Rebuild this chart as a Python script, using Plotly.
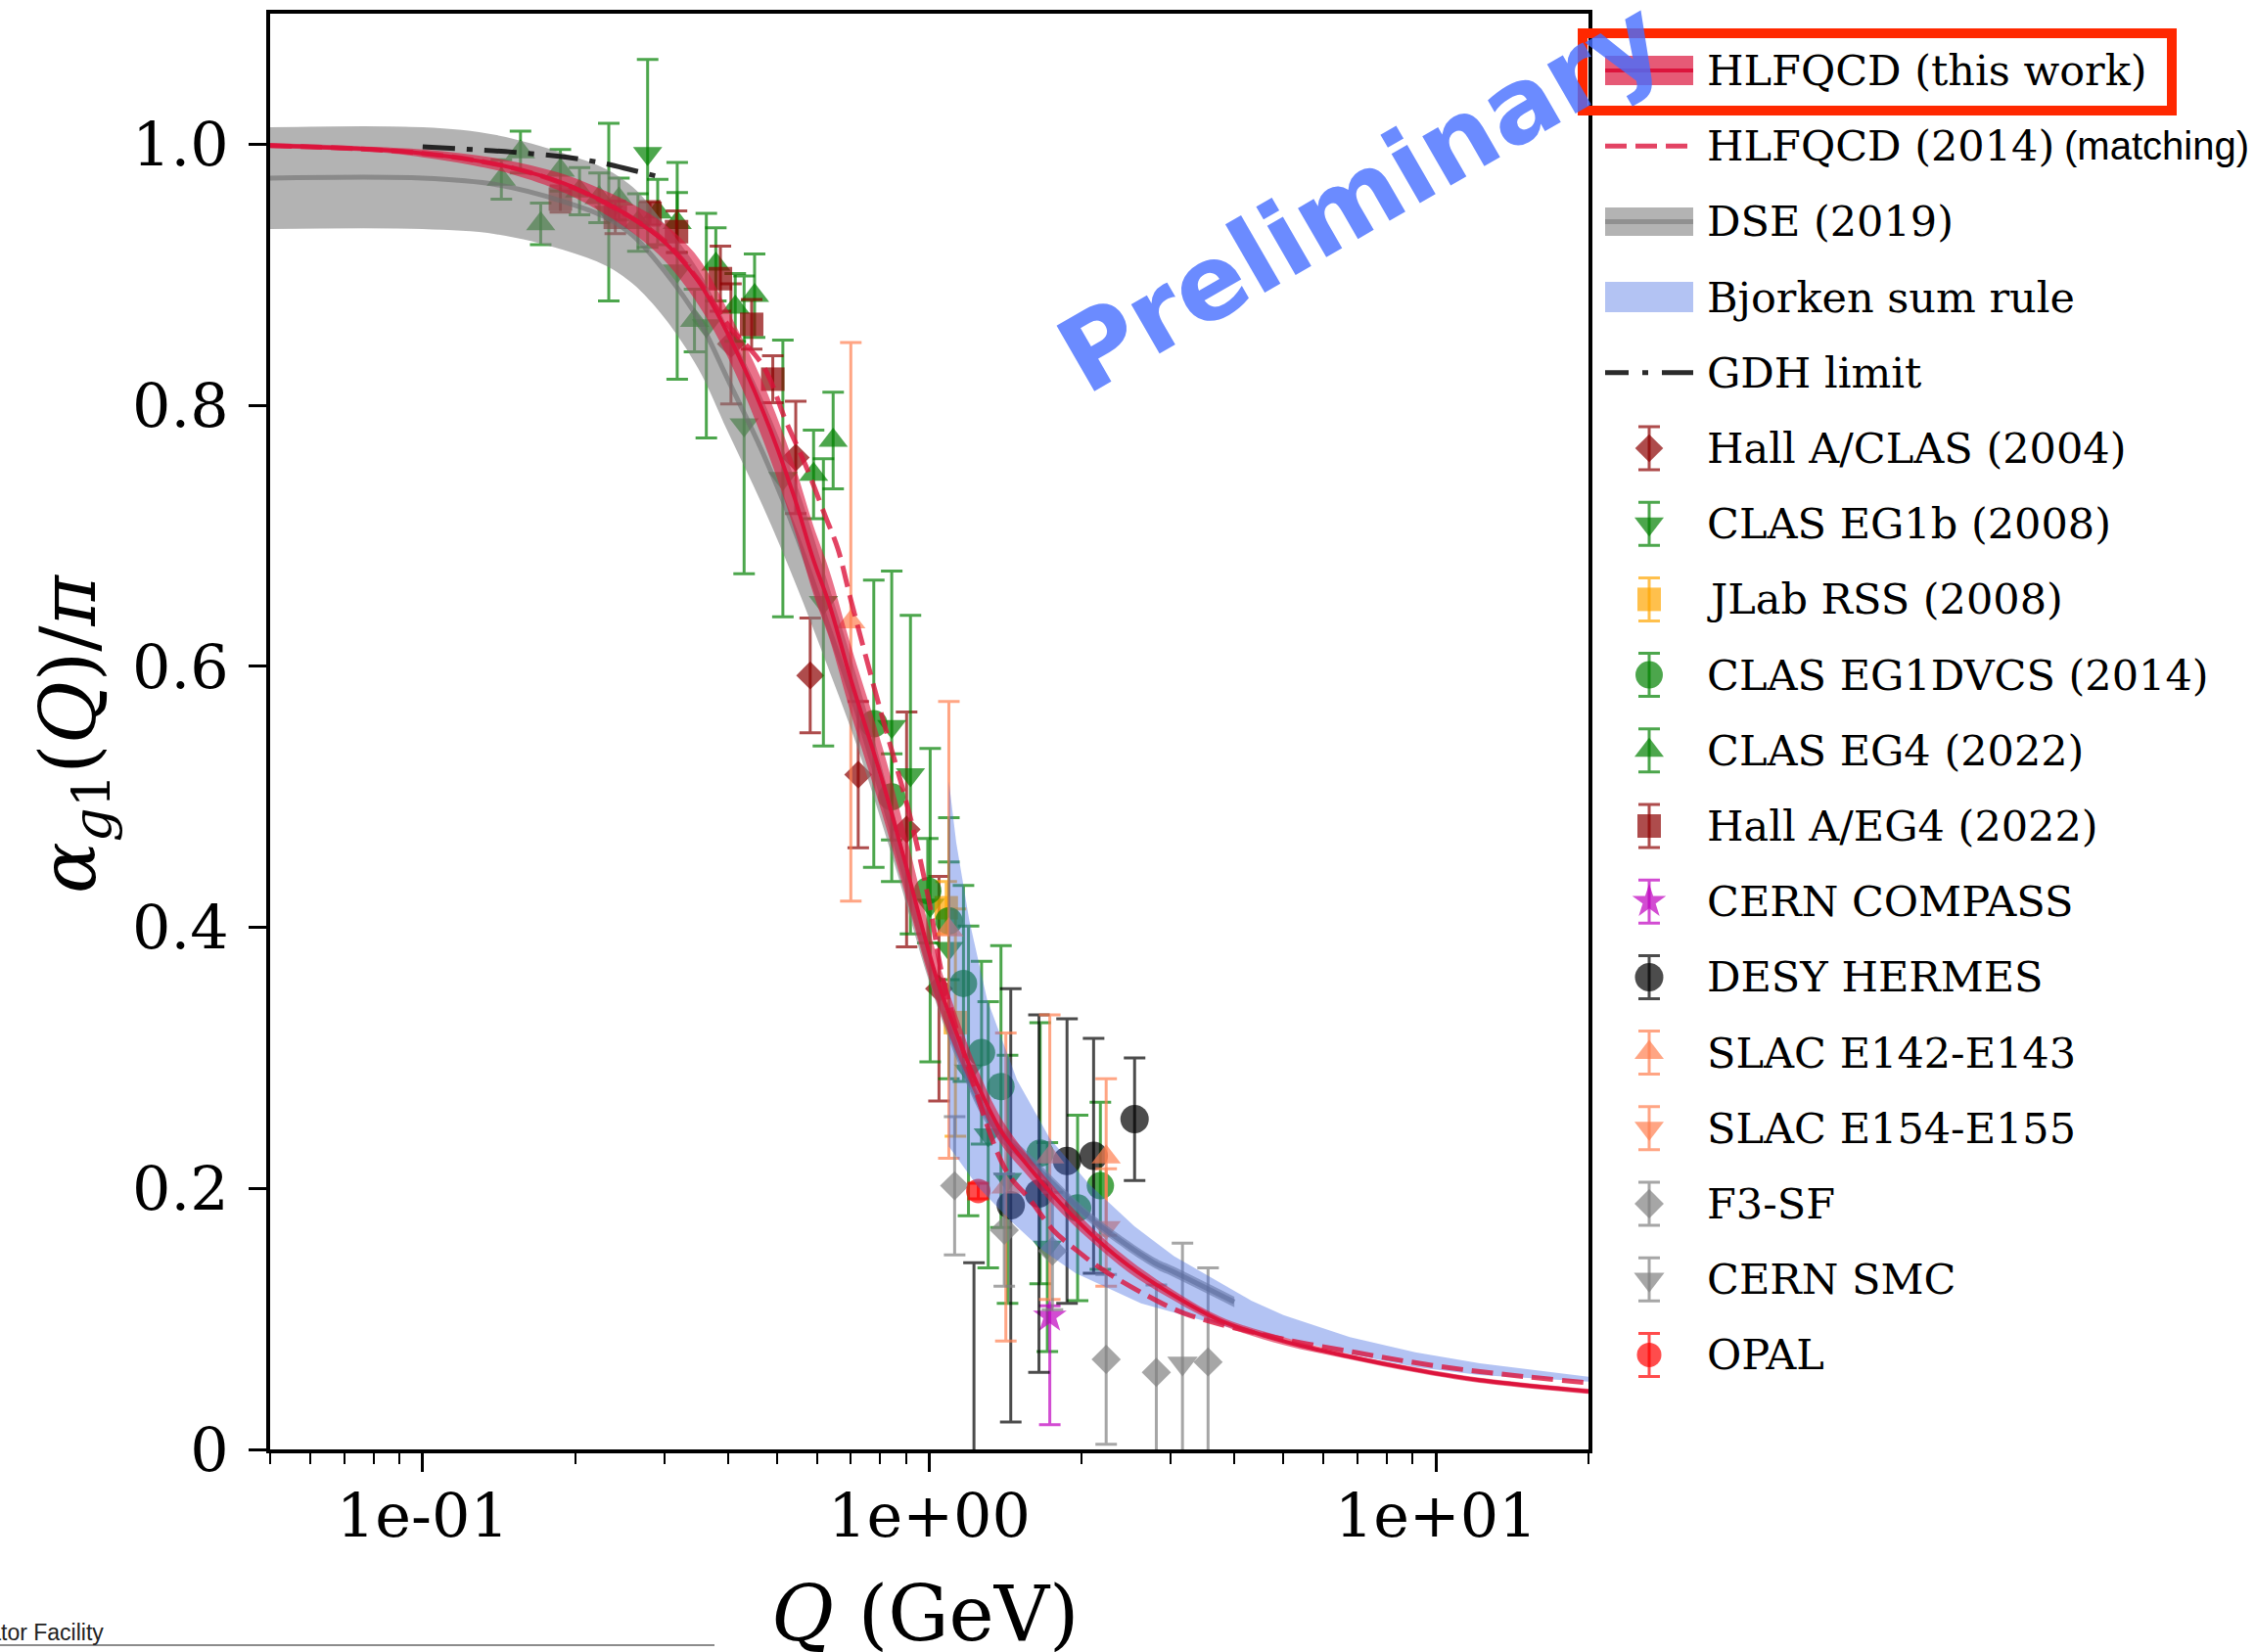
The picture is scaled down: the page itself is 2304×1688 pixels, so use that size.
import math
import plotly.graph_objects as go

# ---------------- theory curves ----------------
# HLFQCD (this work): central curve and its uncertainty band
hlf_q = [0.05, 0.08, 0.1, 0.125, 0.15, 0.19, 0.23, 0.26, 0.30, 0.35, 0.40, 0.47, 0.54, 0.59, 0.636, 0.70,
         0.807, 0.895, 1.03, 1.126, 1.249, 1.385, 1.537, 1.781, 2.066, 2.468, 2.948, 3.74, 5.0, 6.76, 9.1, 12.2, 20.0]
hlf_mid = [0.999, 0.996, 0.993, 0.988, 0.982, 0.970, 0.955, 0.943, 0.925, 0.895, 0.855, 0.795, 0.731, 0.682, 0.6465, 0.590,
           0.513, 0.4505, 0.363, 0.321, 0.2784, 0.244, 0.221, 0.192, 0.1665, 0.141, 0.121, 0.099, 0.083, 0.071, 0.061, 0.053, 0.0445]
hlf_hi = [1.001, 0.998, 0.996, 0.992, 0.987, 0.977, 0.964, 0.954, 0.939, 0.913, 0.873, 0.817, 0.756, 0.708, 0.6725, 0.616,
          0.539, 0.4745, 0.381, 0.336, 0.290, 0.254, 0.229, 0.199, 0.172, 0.146, 0.125, 0.102, 0.086, 0.073, 0.063, 0.055, 0.0465]
hlf_lo = [0.997, 0.994, 0.990, 0.984, 0.977, 0.963, 0.946, 0.932, 0.911, 0.877, 0.837, 0.773, 0.706, 0.656, 0.6205, 0.564,
          0.487, 0.4265, 0.345, 0.306, 0.267, 0.234, 0.213, 0.185, 0.161, 0.136, 0.117, 0.096, 0.080, 0.069, 0.059, 0.051, 0.0425]

# HLFQCD (2014), matched to pQCD
hlf14_q = [0.05, 0.1, 0.15, 0.2, 0.26, 0.3, 0.35, 0.4, 0.47, 0.521, 0.57, 0.622, 0.66, 0.701, 0.801, 0.915, 1.0,
           1.061, 1.2, 1.416, 1.583, 1.756, 1.976, 2.193, 2.657, 3.2, 4.67, 7.0, 10.0, 14.0, 20.0]
hlf14 = [0.999, 0.993, 0.982, 0.966, 0.943, 0.926, 0.896, 0.862, 0.830, 0.788, 0.754, 0.716, 0.690, 0.650, 0.566, 0.486, 0.419,
         0.363, 0.290, 0.214, 0.191, 0.168, 0.151, 0.138, 0.119, 0.104, 0.087, 0.074, 0.064, 0.057, 0.051]

# DSE (2019)
dse_q = [0.05, 0.1, 0.14, 0.19, 0.23, 0.26, 0.30, 0.35, 0.40, 0.47, 0.545, 0.62, 0.72, 0.85, 1.0, 1.15, 1.32, 1.61,
         2.07, 2.78, 3.04, 4.0]
dse_mid = [0.974, 0.974, 0.969, 0.956, 0.944, 0.930, 0.903, 0.866, 0.820, 0.763, 0.702, 0.640, 0.565, 0.470, 0.370, 0.300,
           0.251, 0.218, 0.178, 0.143, 0.136, 0.113]
dse_hi = [1.013, 1.013, 1.007, 0.993, 0.981, 0.967, 0.939, 0.904, 0.860, 0.804, 0.741, 0.673, 0.591, 0.489, 0.382, 0.308,
          0.257, 0.223, 0.182, 0.147, 0.140, 0.117]
dse_lo = [0.935, 0.935, 0.931, 0.919, 0.907, 0.893, 0.867, 0.828, 0.780, 0.722, 0.663, 0.607, 0.539, 0.451, 0.358, 0.292,
          0.245, 0.213, 0.174, 0.139, 0.132, 0.109]

# Bjorken sum rule band (upper and lower edges)
bj_up_q = [1.093, 1.13, 1.2, 1.3, 1.49, 1.73, 2.07, 2.54, 3.04, 4.32, 5.0, 6.76, 9.1, 12.2, 20.0]
bj_up = [0.512, 0.465, 0.405, 0.345, 0.283, 0.238, 0.203, 0.171, 0.148, 0.114, 0.103, 0.086, 0.0745, 0.066, 0.0557]
bj_lo_q = [1.093, 1.249, 1.448, 1.68, 1.946, 2.258, 2.617, 3.52, 4.32, 5.0, 6.76, 9.1, 12.2, 20.0]
bj_lo = [0.232, 0.201, 0.175, 0.152, 0.135, 0.1235, 0.112, 0.098, 0.089, 0.0857, 0.0732, 0.0632, 0.057, 0.052]

# GDH limit
gdh_q = [0.1, 0.15, 0.193, 0.23, 0.26, 0.301]
gdh = [0.998, 0.994, 0.990, 0.985, 0.980, 0.974]

# ---------------- experimental data ----------------
halla_clas04_q = [0.406, 0.545, 0.582, 0.724, 0.902, 1.045]
halla_clas04_v = [0.847, 0.760, 0.593, 0.517, 0.475, 0.353]
halla_clas04_e = [0.046, 0.043, 0.044, 0.056, 0.090, 0.086]

clas_eg1b_q = [0.233, 0.278, 0.318, 0.363, 0.431, 0.514, 0.618, 0.843, 0.918, 1.004, 1.093, 1.195, 1.307, 1.427, 1.71]
clas_eg1b_v = [0.948, 0.993, 0.903, 0.861, 0.785, 0.744, 0.649, 0.554, 0.517, 0.417, 0.384, 0.290, 0.241, 0.207, 0.155]
clas_eg1b_e = [0.068, 0.072, 0.083, 0.086, 0.114, 0.106, 0.110, 0.119, 0.122, 0.120, 0.100, 0.111, 0.102, 0.095, 0.080]

jlab_rss_q = [1.08, 1.126]
jlab_rss_v = [0.415, 0.327]
jlab_rss_e = [0.020, 0.087]

clas_eg1dvcs_q = [0.777, 0.843, 0.993, 1.093, 1.168, 1.268, 1.385, 1.655, 1.962, 2.176]
clas_eg1dvcs_v = [0.556, 0.500, 0.428, 0.405, 0.357, 0.304, 0.278, 0.227, 0.185, 0.202]
clas_eg1dvcs_e = [0.110, 0.033, 0.040, 0.045, 0.075, 0.070, 0.108, 0.100, 0.071, 0.064]

clas_eg4_q = [0.143, 0.156, 0.171, 0.187, 0.204, 0.223, 0.244, 0.266, 0.291, 0.318, 0.344, 0.379, 0.414, 0.452, 0.591, 0.646]
clas_eg4_v = [0.973, 0.994, 0.939, 0.980, 0.964, 0.959, 0.958, 0.940, 0.948, 0.940, 0.865, 0.908, 0.875, 0.884, 0.747, 0.773]
clas_eg4_e = [0.015, 0.016, 0.016, 0.016, 0.018, 0.019, 0.016, 0.022, 0.025, 0.023, 0.024, 0.028, 0.026, 0.032, 0.034, 0.037]

halla_eg4_q = [0.187, 0.240, 0.281, 0.317, 0.387, 0.446, 0.491]
halla_eg4_v = [0.958, 0.944, 0.947, 0.933, 0.897, 0.862, 0.820]
halla_eg4_e = [0.010, 0.0125, 0.009, 0.016, 0.025, 0.019, 0.018]

compass_q = [1.729]
compass_v = [0.102]
compass_e_up = [0.008]
compass_e_down = [0.083]

hermes_q = [1.225, 1.448, 1.646, 1.87, 2.11, 2.542]
hermes_v = [-0.03, 0.187, 0.196, 0.221, 0.225, 0.253]
hermes_e = [0.173, 0.166, 0.137, 0.109, 0.090, 0.047]

slac_e142_q = [0.70, 1.093, 1.416, 1.729, 2.234]
slac_e142_v = [0.634, 0.398, 0.201, 0.224, 0.224]
slac_e142_e = [0.214, 0.175, 0.118, 0.109, 0.060]

slac_e154_q = [2.234]
slac_e154_v = [0.170]
slac_e154_e = [0.045]

f3sf_q = [1.122, 1.406, 1.75, 2.234, 2.806, 3.55]
f3sf_v = [0.202, 0.168, 0.152, 0.069, 0.059, 0.067]
f3sf_e = [0.053, 0.043, 0.045, 0.065, 0.067, 0.072]

smc_q = [3.16]
smc_v = [0.066]
smc_e = [0.092]

opal_q = [1.249]
opal_v = [0.198]
opal_e = [0.006]

# ---------------- styles ----------------
W, H = 2304, 1688
X0, X1, Y0, Y1 = 276, 1623, 14, 1481          # plot area in pixels
CRIMSON = "rgb(220,20,60)"

datasets = [
    dict(label="Hall A/CLAS (2004)", q=halla_clas04_q, v=halla_clas04_v, e=halla_clas04_e,
         symbol="diamond", size=22, color="rgba(139,0,0,0.7)"),
    dict(label="CLAS EG1b (2008)", q=clas_eg1b_q, v=clas_eg1b_v, e=clas_eg1b_e,
         symbol="triangle-down", size=26, color="rgba(0,128,0,0.7)"),
    dict(label="JLab RSS (2008)", q=jlab_rss_q, v=jlab_rss_v, e=jlab_rss_e,
         symbol="square", size=24, color="rgba(255,165,0,0.7)"),
    dict(label="CLAS EG1DVCS (2014)", q=clas_eg1dvcs_q, v=clas_eg1dvcs_v, e=clas_eg1dvcs_e,
         symbol="circle", size=28, color="rgba(0,128,0,0.7)"),
    dict(label="CLAS EG4 (2022)", q=clas_eg4_q, v=clas_eg4_v, e=clas_eg4_e,
         symbol="triangle-up", size=26, color="rgba(0,128,0,0.7)"),
    dict(label="Hall A/EG4 (2022)", q=halla_eg4_q, v=halla_eg4_v, e=halla_eg4_e,
         symbol="square", size=24, color="rgba(139,0,0,0.7)"),
    dict(label="CERN COMPASS", q=compass_q, v=compass_v, e=compass_e_up, em=compass_e_down,
         symbol="star", size=26, color="rgba(191,0,191,0.7)"),
    dict(label="DESY HERMES", q=hermes_q, v=hermes_v, e=hermes_e,
         symbol="circle", size=29, color="rgba(0,0,0,0.7)"),
    dict(label="SLAC E142-E143", q=slac_e142_q, v=slac_e142_v, e=slac_e142_e,
         symbol="triangle-up", size=26, color="rgba(255,127,80,0.7)"),
    dict(label="SLAC E154-E155", q=slac_e154_q, v=slac_e154_v, e=slac_e154_e,
         symbol="triangle-down", size=26, color="rgba(255,127,80,0.7)"),
    dict(label="F3-SF", q=f3sf_q, v=f3sf_v, e=f3sf_e,
         symbol="diamond", size=23, color="rgba(128,128,128,0.7)"),
    dict(label="CERN SMC", q=smc_q, v=smc_v, e=smc_e,
         symbol="triangle-down", size=27, color="rgba(128,128,128,0.7)"),
    dict(label="OPAL", q=opal_q, v=opal_v, e=opal_e,
         symbol="circle", size=25, color="rgba(255,0,0,0.7)"),
]

fig = go.Figure()

# data points (drawn first so the theory bands sit on top of them)
for s in datasets:
    fig.add_trace(go.Scatter(
        x=s["q"], y=s["v"], mode="markers", xaxis="x", yaxis="y",
        marker=dict(symbol=s["symbol"], size=s["size"], color=s["color"], line=dict(width=0)),
        error_y=dict(type="data", array=s["e"], arrayminus=s.get("em", s["e"]),
                     color=s["color"], thickness=3, width=11),
        showlegend=False, hoverinfo="skip"))

# DSE band + central line
fig.add_trace(go.Scatter(x=dse_q, y=dse_lo, mode="lines", line=dict(width=0, shape="spline"),
                         showlegend=False, hoverinfo="skip"))
fig.add_trace(go.Scatter(x=dse_q, y=dse_hi, mode="lines", line=dict(width=0, shape="spline"),
                         fill="tonexty", fillcolor="rgba(128,128,128,0.6)", showlegend=False, hoverinfo="skip"))
fig.add_trace(go.Scatter(x=dse_q, y=dse_mid, mode="lines",
                         line=dict(width=5, color="rgba(110,110,110,0.6)", shape="spline"),
                         showlegend=False, hoverinfo="skip"))

# Bjorken sum rule band
fig.add_trace(go.Scatter(x=bj_up_q + bj_lo_q[::-1], y=bj_up + bj_lo[::-1], mode="lines",
                         line=dict(width=0), fill="toself", fillcolor="rgba(65,105,225,0.4)",
                         showlegend=False, hoverinfo="skip"))

# HLFQCD (this work) band + central line
fig.add_trace(go.Scatter(x=hlf_q, y=hlf_lo, mode="lines", line=dict(width=0, shape="spline"),
                         showlegend=False, hoverinfo="skip"))
fig.add_trace(go.Scatter(x=hlf_q, y=hlf_hi, mode="lines", line=dict(width=0, shape="spline"),
                         fill="tonexty", fillcolor="rgba(220,20,60,0.6)", showlegend=False, hoverinfo="skip"))
fig.add_trace(go.Scatter(x=hlf_q, y=hlf_mid, mode="lines",
                         line=dict(width=4, color=CRIMSON, shape="spline"),
                         showlegend=False, hoverinfo="skip"))

# HLFQCD (2014)
fig.add_trace(go.Scatter(x=hlf14_q, y=hlf14, mode="lines",
                         line=dict(width=5, color="rgba(220,20,60,0.8)", dash="22px,9px", shape="spline"),
                         showlegend=False, hoverinfo="skip"))

# GDH limit
fig.add_trace(go.Scatter(x=gdh_q, y=gdh, mode="lines",
                         line=dict(width=5, color="rgba(20,20,20,0.9)", dash="33px,12px,6px,12px", shape="spline"),
                         showlegend=False, hoverinfo="skip"))

# ---------------- hand-built legend (pixel coordinates on x2/y2) ----------------
row0, row_step = 72, 77.2
rows = [row0 + i * row_step for i in range(18)]
sx0, sx1, sxc, tx = 1640, 1730, 1685, 1742
shapes = []
annotations = []

legend_labels = ["HLFQCD (this work)", "HLFQCD (2014)", "DSE (2019)", "Bjorken sum rule", "GDH limit"] + \
                [s["label"] for s in datasets]

# band swatches
shapes.append(dict(type="rect", xref="x2", yref="y2", x0=sx0, x1=sx1, y0=rows[0] - 15, y1=rows[0] + 15,
                   fillcolor="rgba(220,20,60,0.7)", line=dict(width=0), layer="above"))
shapes.append(dict(type="rect", xref="x2", yref="y2", x0=sx0, x1=sx1, y0=rows[2] - 14.5, y1=rows[2] + 14.5,
                   fillcolor="rgba(128,128,128,0.6)", line=dict(width=0), layer="above"))
shapes.append(dict(type="rect", xref="x2", yref="y2", x0=sx0, x1=sx1, y0=rows[3] - 15.5, y1=rows[3] + 15.5,
                   fillcolor="rgba(65,105,225,0.4)", line=dict(width=0), layer="above"))

legend_lines = [
    (rows[0], dict(width=4, color=CRIMSON)),
    (rows[1], dict(width=5, color="rgba(220,20,60,0.8)", dash="22px,9px")),
    (rows[2], dict(width=5, color="rgba(110,110,110,0.6)")),
    (rows[4], dict(width=5, color="rgba(20,20,20,0.9)", dash="24px,14px,6px,14px,32px,20px")),
]
for ry, ln in legend_lines:
    fig.add_trace(go.Scatter(x=[sx0, sx1], y=[ry, ry], mode="lines", line=ln, xaxis="x2", yaxis="y2",
                             showlegend=False, hoverinfo="skip"))

for i, s in enumerate(datasets):
    ry = rows[5 + i]
    fig.add_trace(go.Scatter(
        x=[sxc], y=[ry], mode="markers", xaxis="x2", yaxis="y2",
        marker=dict(symbol=s["symbol"], size=s["size"], color=s["color"], line=dict(width=0)),
        error_y=dict(type="data", array=[22], color=s["color"], thickness=3, width=11),
        showlegend=False, hoverinfo="skip"))

for i, lab in enumerate(legend_labels):
    annotations.append(dict(xref="x2", yref="y2", x=tx, y=rows[i], text=lab, showarrow=False,
                            xanchor="left", yanchor="middle",
                            font=dict(family="DejaVu Serif", size=43, color="black")))

annotations.append(dict(xref="x2", yref="y2", x=2107, y=rows[1], text="(matching)", showarrow=False,
                        xanchor="left", yanchor="middle",
                        font=dict(family="Liberation Sans, Arial", size=40, color="black")))

# highlight box around the first legend entry
shapes.append(dict(type="rect", xref="paper", yref="paper",
                   x0=1617 / W, x1=2219 / W, y0=1 - 113 / H, y1=1 - 34 / H,
                   line=dict(color="rgb(255,40,0)", width=10), fillcolor="rgba(0,0,0,0)", layer="above"))

# axis titles
annotations.append(dict(xref="paper", yref="paper", x=945 / W, y=1 - 1649 / H,
                        text="<i>Q</i> (GeV)", showarrow=False, xanchor="center", yanchor="middle",
                        font=dict(family="DejaVu Serif", size=78, color="black")))
annotations.append(dict(xref="paper", yref="paper", x=75 / W, y=1 - 750 / H,
                        text="<i>α</i><sub><i>g</i>1</sub>(<i>Q</i>)/<i>π</i>", showarrow=False,
                        textangle=-90, xanchor="center", yanchor="middle",
                        font=dict(family="DejaVu Serif", size=78, color="black")))

# watermark
annotations.append(dict(xref="paper", yref="paper", x=1390 / W, y=1 - 200 / H, text="Preliminary",
                        showarrow=False, textangle=-30, xanchor="center", yanchor="middle",
                        font=dict(family="DejaVu Sans", size=106, color="rgba(70,110,255,0.8)", weight="bold")))

# footer fragment
annotations.append(dict(xref="paper", yref="paper", x=108 / W, y=1 - 1668 / H,
                        text="Thomas Jefferson National Accelerator Facility", showarrow=False,
                        xanchor="right", yanchor="middle",
                        font=dict(family="Liberation Sans, Arial", size=23, color="#222222")))
shapes.append(dict(type="line", xref="paper", yref="paper", x0=0, x1=730 / W, y0=1 - 1681 / H, y1=1 - 1681 / H,
                   line=dict(color="#666666", width=1.5)))

minor_ticks = [d * 10.0 ** k for k in (-2, -1, 0, 1) for d in range(2, 10) if 0.0499 <= d * 10.0 ** k <= 20.01]

fig.update_layout(
    width=W, height=H, margin=dict(l=0, r=0, t=0, b=0),
    paper_bgcolor="white", plot_bgcolor="white", showlegend=False,
    xaxis=dict(type="log", domain=[X0 / W, X1 / W], range=[math.log10(0.05), math.log10(20)],
               tickmode="array", tickvals=[0.1, 1, 10], ticktext=["1e-01", "1e+00", "1e+01"],
               ticks="outside", ticklen=19, tickwidth=3, tickcolor="black", ticklabelstandoff=-8,
               minor=dict(tickmode="array", tickvals=minor_ticks, ticks="outside", ticklen=11,
                          tickwidth=2, tickcolor="black", showgrid=False),
               showline=True, linewidth=4, linecolor="black", mirror=True,
               showgrid=False, zeroline=False, automargin=False, anchor="y",
               tickfont=dict(family="DejaVu Serif", size=62, color="black")),
    yaxis=dict(domain=[1 - Y1 / H, 1 - Y0 / H], range=[0, 1.1],
               tickmode="array", tickvals=[0, 0.2, 0.4, 0.6, 0.8, 1.0],
               ticktext=["0", "0.2", "0.4", "0.6", "0.8", "1.0"],
               ticks="outside", ticklen=18, tickwidth=3, tickcolor="black", ticklabelstandoff=8,
               showline=True, linewidth=4, linecolor="black", mirror=True,
               showgrid=False, zeroline=False, automargin=False, anchor="x",
               tickfont=dict(family="DejaVu Serif", size=62, color="black")),
    xaxis2=dict(domain=[X1 / W, 1.0], range=[X1, W], visible=False, anchor="y2", fixedrange=True),
    yaxis2=dict(domain=[0, 1], range=[H, 0], visible=False, anchor="x2", fixedrange=True),
    shapes=shapes, annotations=annotations,
)

fig.write_html("out.html")
